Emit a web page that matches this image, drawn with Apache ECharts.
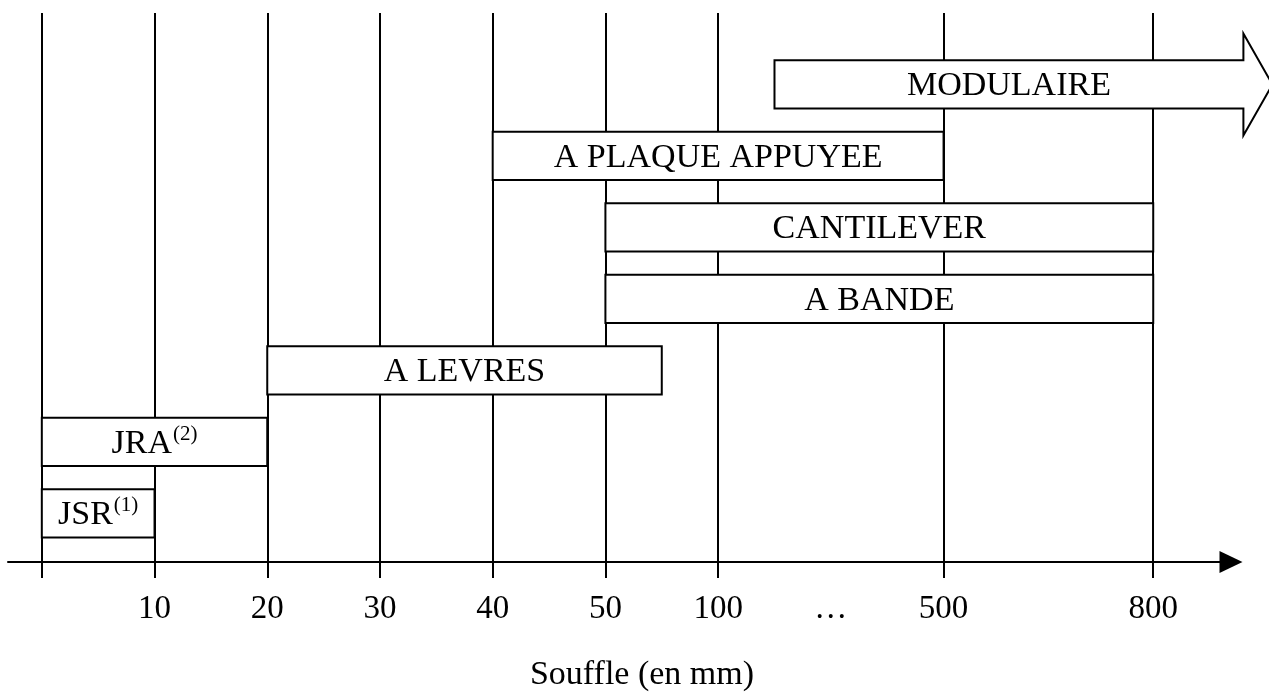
<!DOCTYPE html>
<html><head><meta charset="utf-8">
<script src="https://cdn.jsdelivr.net/npm/echarts@6/dist/echarts.min.js"></script>
<style>html,body{margin:0;padding:0;background:#fff}#c{width:1269px;height:697px}</style>
</head><body><div id="c"></div>
<script>
// Data (x positions are slot indices on the non-linear "Souffle" axis)
const categories = ['JSR','JRA','A LEVRES','A BANDE','CANTILEVER','A PLAQUE APPUYEE','MODULAIRE'];
const notes = ['(1)','(2)','','','','',''];
const rangeStart = [0, 0, 2, 5, 5, 4, 6.5];
const rangeEnd = [1, 2, 5.5, 9.86, 9.86, 8, 10.66];
const tickPositions = [0, 1, 2, 3, 4, 5, 6, 7, 8, 9.86];
const tickLabels = ['', '10', '20', '30', '40', '50', '100', '…', '500', '800'];
const gridPositions = [0, 1, 2, 3, 4, 5, 6, 8, 9.86];
const axisTitle = 'Souffle (en mm)';

const FONT = "'Liberation Serif', 'DejaVu Serif', serif";

function labelFor(v){
  let best = 0, bd = Infinity;
  tickPositions.forEach((p,i)=>{ const d = Math.abs(p - v); if (d < bd){ bd = d; best = i; } });
  return tickLabels[best];
}

function renderItem(params, api){
  const i = params.dataIndex;
  const s = api.value(0), e = api.value(1), row = api.value(2);
  const p0 = api.coord([s, row]);
  const p1 = api.coord([e, row]);
  const h = api.size([0, 0.675])[1];
  const y = p0[1];
  const x0 = p0[0], x1 = p1[0];
  const isArrow = categories[i] === 'MODULAIRE';
  let shape;
  if (isArrow) {
    const headLen = 29, headHalf = 51;
    shape = {
      type: 'polygon',
      shape: { points: [[x0, y - h/2], [x1, y - h/2], [x1, y - headHalf], [x1 + headLen, y],
                        [x1, y + headHalf], [x1, y + h/2], [x0, y + h/2]] },
      style: { fill: '#fff', stroke: '#000', lineWidth: 2 }
    };
  } else {
    shape = {
      type: 'rect',
      shape: { x: x0, y: y - h/2, width: x1 - x0, height: h },
      style: { fill: '#fff', stroke: '#000', lineWidth: 2 }
    };
  }
  const txt = notes[i] ? '{m|' + categories[i] + '}{s|' + notes[i] + '}' : '{m|' + categories[i] + '}';
  return {
    type: 'group',
    children: [
      shape,
      {
        type: 'text',
        x: (x0 + x1) / 2, y: y + 2,
        style: {
          text: txt, align: 'center', verticalAlign: 'middle',
          rich: {
            m: { fontSize: 34, fontFamily: FONT, fill: '#000', lineHeight: 40 },
            s: { fontSize: 21, fontFamily: FONT, fill: '#000', lineHeight: 21, verticalAlign: 'top', padding: [0,0,0,1] }
          }
        }
      }
    ]
  };
}

const chart = echarts.init(document.getElementById('c'), null, { renderer: 'canvas' });
chart.setOption({
  animation: false,
  backgroundColor: '#fff',
  grid: { left: 8, right: 38, top: 13, bottom: 127 },
  xAxis: {
    type: 'value', min: -0.3, max: 10.55,
    axisLine: { show: true, onZero: false, symbol: ['none', 'triangle'], symbolSize: [22, 23],
                lineStyle: { color: '#000', width: 2 } },
    axisTick: { show: true, inside: false, length: 16, customValues: gridPositions,
                lineStyle: { color: '#000', width: 2 } },
    axisLabel: { customValues: tickPositions.slice(1), formatter: v => labelFor(v), margin: 31,
                 color: '#000', fontSize: 33, fontFamily: FONT },
    splitLine: { show: true, lineStyle: { color: '#000', width: 2 } },
    name: axisTitle, nameLocation: 'middle', nameGap: 96,
    nameTextStyle: { color: '#000', fontSize: 34, fontFamily: FONT, padding: [0, 0, 0, 45] }
  },
  yAxis: { type: 'value', min: -0.68, max: 7, show: false },
  series: [{
    type: 'custom',
    renderItem: renderItem,
    clip: false,
    z: 10,
    encode: { x: [0, 1], y: 2 },
    data: categories.map((c, i) => [rangeStart[i], rangeEnd[i], i])
  }]
});
</script>
</body></html>
